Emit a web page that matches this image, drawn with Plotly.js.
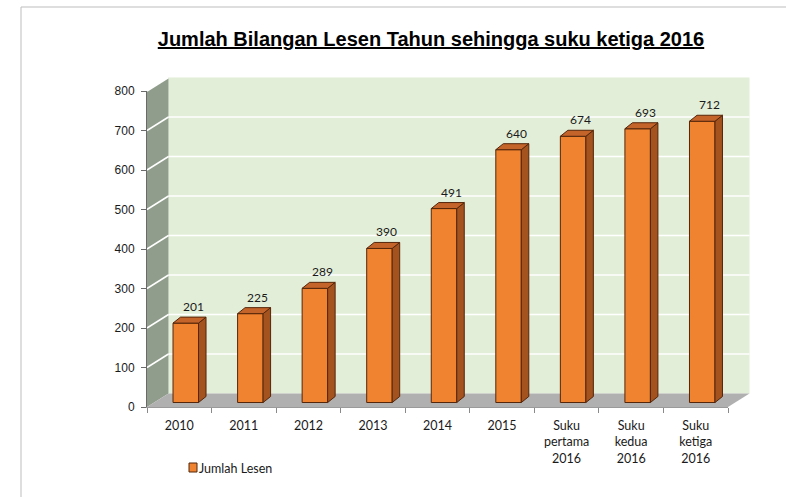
<!DOCTYPE html>
<html>
<head>
<meta charset="utf-8">
<script src="https://cdn.plot.ly/plotly-3.0.1.min.js"></script>
<style>html,body{margin:0;padding:0;background:#fff;}#chart{width:786px;height:497px;}</style>
</head>
<body>
<div id="chart"></div>
<script>
// ---- data ----
const categories = ['2010','2011','2012','2013','2014','2015','Suku<br>pertama<br>2016','Suku<br>kedua<br>2016','Suku<br>ketiga<br>2016'];
const values = [201,225,289,390,491,640,674,693,712];
const seriesName = 'Jumlah Lesen';
const yTicks = [0,100,200,300,400,500,600,700,800];
const chartTitle = 'Jumlah Bilangan Lesen Tahun sehingga suku ketiga 2016';

// ---- geometry (pixels) ----
const W = 786, H = 497;
const L = 147, R = 728, T = 91, B = 407;
const pw = R - L, ph = B - T;
const yMax = 800;
const catW = pw / categories.length;
const uPerPx = yMax / ph;
const barWpx = 25.5, barShiftPx = 6.5, baseShiftPx = 4.5;
const depthX = 7.5, depthY = 6;
const wallX = 21.5, wallY = 13.5;

const barW = barWpx / catW;
const barOffset = barShiftPx / catW - barW / 2;
const baseU = baseShiftPx * uPerPx;
const dxU = depthX / catW, dyU = depthY * uPerPx;

const FRONT = '#EF8330', SIDE = '#A4521E', TOP = '#C4632A', EDGE = '#55260A';

function px(x) { return (x - L) / pw; }
function py(y) { return (B - y) / ph; }
function poly(pts) { return 'M' + pts.map(p => p[0] + ',' + p[1]).join(' L') + ' Z'; }

const shapes = [];
// outer border
shapes.push({type:'rect', xref:'paper', yref:'paper', x0:px(21), x1:px(800), y0:py(7), y1:py(510),
  line:{color:'#BDBDBD', width:1}, fillcolor:'rgba(0,0,0,0)', layer:'below'});
// back wall
shapes.push({type:'path', xref:'paper', yref:'paper', layer:'below', line:{width:0},
  fillcolor:'#E3EED8',
  path: poly([[px(L+wallX),py(B-wallY)],[px(R+wallX),py(B-wallY)],[px(R+wallX),py(T-wallY)],[px(L+wallX),py(T-wallY)]])});
// left wall
shapes.push({type:'path', xref:'paper', yref:'paper', layer:'below', line:{width:0},
  fillcolor:'#909D8C',
  path: poly([[px(L),py(B)],[px(L+wallX),py(B-wallY)],[px(L+wallX),py(T-wallY)],[px(L),py(T)]])});
// floor
shapes.push({type:'path', xref:'paper', yref:'paper', layer:'below', line:{width:0},
  fillcolor:'#B0B0B0',
  path: poly([[px(L),py(B)],[px(L+wallX),py(B-wallY)],[px(R+wallX),py(B-wallY)],[px(R),py(B)]])});
// gridlines on walls
yTicks.forEach(v => {
  if (v === 0) return;
  const yf = B - v / uPerPx;
  const yb = yf - wallY;
  shapes.push({type:'line', xref:'paper', yref:'paper', layer:'below',
    x0:px(L), y0:py(yf), x1:px(L+wallX), y1:py(yb), line:{color:'#FFFFFF', width:1.5}});
  if (v < yMax) shapes.push({type:'line', xref:'paper', yref:'paper', layer:'below',
    x0:px(L+wallX), y0:py(yb), x1:px(R+wallX), y1:py(yb), line:{color:'#FFFFFF', width:1.5}});
});
// 3D side and top faces of bars (data coordinates)
values.forEach((v, i) => {
  const xl = i + barOffset, xr = xl + barW;
  const yb = baseU, yt = baseU + v;
  shapes.push({type:'path', xref:'x', yref:'y', layer:'above', fillcolor:SIDE, line:{color:EDGE, width:1},
    path: poly([[xr,yb],[xr+dxU,yb+dyU],[xr+dxU,yt+dyU],[xr,yt]])});
  shapes.push({type:'path', xref:'x', yref:'y', layer:'above', fillcolor:TOP, line:{color:EDGE, width:1},
    path: poly([[xl,yt],[xl+dxU,yt+dyU],[xr+dxU,yt+dyU],[xr,yt]])});
});
// legend square
shapes.push({type:'rect', xref:'paper', yref:'paper', x0:px(189), x1:px(197), y0:py(463), y1:py(472),
  fillcolor:FRONT, line:{color:EDGE, width:1}});

const annotations = values.map((v, i) => ({
  x: i + barOffset + barW / 2 + dxU, y: baseU + v + dyU, xref:'x', yref:'y',
  text: String(v), showarrow:false, yanchor:'bottom', yshift:1,
  font:{family:'Lato, sans-serif', size:12, color:'#1a1a1a'}
}));
annotations.push({xref:'paper', yref:'paper', x:px(197), y:py(468), xanchor:'left', yanchor:'middle',
  text: seriesName, showarrow:false, font:{family:'Lato, sans-serif', size:12.5, color:'#1a1a1a'}});

const trace = {
  type:'bar', name: seriesName, x: categories, y: values, base: baseU,
  width: barW, offset: barOffset,
  marker:{color:FRONT, line:{color:EDGE, width:1}},
  hoverinfo:'x+y', showlegend:false
};

const layout = {
  width: W, height: H,
  margin:{l:L, r:W-R, t:T, b:H-B, pad:0},
  paper_bgcolor:'#FFFFFF', plot_bgcolor:'rgba(0,0,0,0)',
  showlegend:false,
  title:{text: chartTitle, xref:'container', yref:'container', x:431/W, y:1-39/H,
    xanchor:'center', yanchor:'middle',
    font:{family:'Liberation Sans, Arial, sans-serif', size:20, weight:'bold', color:'#000', lineposition:'under'}},
  xaxis:{type:'category', range:[-0.5, categories.length-0.5], tickson:'boundaries',
    ticks:'outside', ticklen:5, tickcolor:'#8A8A8A', showline:true, linecolor:'#9A9A9A', linewidth:1,
    showgrid:false, zeroline:false, fixedrange:true, ticklabelstandoff:7,
    tickfont:{family:'Lato, sans-serif', size:12.5, color:'#1a1a1a'}},
  yaxis:{range:[0, yMax], tickvals: yTicks, ticks:'outside', ticklen:5, tickcolor:'#6A6A6A',
    showline:true, linecolor:'#6A6A6A', linewidth:1, showgrid:false, zeroline:false,
    ticklabelstandoff:4, fixedrange:true,
    tickfont:{family:'Liberation Sans, Arial, sans-serif', size:12, color:'#1a1a1a'}},
  shapes: shapes,
  annotations: annotations,
  bargap:0
};

Plotly.newPlot('chart', [trace], layout, {displayModeBar:false, staticPlot:true});
</script>
</body>
</html>
